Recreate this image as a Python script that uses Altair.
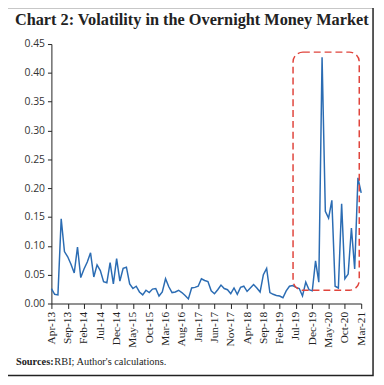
import altair as alt
import pandas as pd

tick_labels = ["Apr-13", "Sep-13", "Feb-14", "Jul-14", "Dec-14", "May-15", "Oct-15",
               "Mar-16", "Aug-16", "Jan-17", "Jun-17", "Nov-17", "Apr-18", "Sep-18",
               "Feb-19", "Jul-19", "Dec-19", "May-20", "Oct-20", "Mar-21"]

volatility = [0.026, 0.016, 0.015, 0.147, 0.090, 0.081, 0.068, 0.053, 0.098, 0.045,
              0.060, 0.072, 0.088, 0.046, 0.067, 0.057, 0.038, 0.036, 0.071, 0.034,
              0.078, 0.039, 0.061, 0.063, 0.034, 0.026, 0.030, 0.020, 0.015, 0.023,
              0.019, 0.025, 0.026, 0.013, 0.020, 0.043, 0.029, 0.019, 0.020, 0.023,
              0.019, 0.014, 0.008, 0.027, 0.028, 0.030, 0.043, 0.040, 0.038, 0.022,
              0.017, 0.024, 0.032, 0.026, 0.024, 0.017, 0.027, 0.016, 0.028, 0.030,
              0.021, 0.027, 0.033, 0.027, 0.020, 0.050, 0.061, 0.019, 0.016, 0.014,
              0.013, 0.010, 0.022, 0.030, 0.031, 0.028, 0.026, 0.013, 0.037, 0.024,
              0.022, 0.074, 0.037, 0.427, 0.160, 0.148, 0.179, 0.030, 0.027, 0.173,
              0.043, 0.051, 0.131, 0.060, 0.218, 0.192]

y_ticks = [0.0, 0.05, 0.10, 0.15, 0.20, 0.25, 0.30, 0.35, 0.40, 0.45]

# highlighted period (month index range, value range)
box_months = [74.1, 94.4]
box_values = [0.023, 0.436]

title_text = "Chart 2: Volatility in the Overnight Money Market"
source_bold = "Sources:"
source_rest = "RBI; Author's calculations."

df = pd.DataFrame({"month": list(range(len(volatility))), "value": volatility})
box_df = pd.DataFrame({"x": [box_months[0]], "x2": [box_months[1]],
                       "y": [box_values[0]], "y2": [box_values[1]]})
one = pd.DataFrame({"a": [0]})

W, H = 314, 263
label_js = "[" + ",".join("'" + s + "'" for s in tick_labels) + "]"

x_scale = alt.Scale(domain=[0, 95], nice=False, zero=False)
y_scale = alt.Scale(domain=[0, 0.45], nice=False)

x_axis = alt.Axis(values=list(range(0, 96, 5)),
                  labelExpr=label_js + "[round(datum.value/5)]",
                  labelAngle=-90, title=None, grid=False,
                  labelOverlap=False, labelFlush=False,
                  labelFont="Liberation Serif", labelFontSize=11.5,
                  labelColor="#222", domainColor="#222", tickColor="#222",
                  tickSize=5, labelPadding=3)
y_axis = alt.Axis(values=y_ticks, format=".2f", title=None, grid=False,
                  labelOverlap=False, labelFlush=False,
                  labelFont="Open Sans", labelFontSize=10.5, labelColor="#333",
                  domainColor="#222", tickColor="#222", tickSize=4, labelPadding=3)

line = alt.Chart(df).mark_line(color="#2b6cb3", strokeWidth=1.5).encode(
    x=alt.X("month:Q", scale=x_scale, axis=x_axis),
    y=alt.Y("value:Q", scale=y_scale, axis=y_axis),
)

box = alt.Chart(box_df).mark_rect(
    fillOpacity=0, stroke="#e0443c", strokeWidth=1.5, strokeDash=[7, 4], cornerRadius=10
).encode(x=alt.X("x:Q", scale=x_scale, axis=x_axis), x2="x2",
         y=alt.Y("y:Q", scale=y_scale, axis=y_axis), y2="y2")

frame = alt.Chart(one).mark_rect(
    fillOpacity=0, stroke="#222", strokeWidth=1.5
).encode(x=alt.value(-47), x2=alt.value(326), y=alt.value(-37), y2=alt.value(336))

title = alt.Chart(one).mark_text(
    align="left", baseline="alphabetic", font="Liberation Serif", fontWeight="bold",
    fontSize=16.5, color="#222"
).encode(x=alt.value(-37), y=alt.value(-19), text=alt.value(title_text))

src1 = alt.Chart(one).mark_text(
    align="left", baseline="alphabetic", font="Liberation Serif", fontWeight="bold",
    fontSize=10.5, color="#222"
).encode(x=alt.value(-36), y=alt.value(325), text=alt.value(source_bold))

src2 = alt.Chart(one).mark_text(
    align="left", baseline="alphabetic", font="Liberation Serif",
    fontSize=10.5, color="#222"
).encode(x=alt.value(3), y=alt.value(325), text=alt.value(source_rest))

chart = alt.layer(frame, line, box, title, src1, src2).properties(
    width=W, height=H,
    padding={"left": 44, "top": 34, "right": 15, "bottom": 76},
    autosize=alt.AutoSizeParams(type="none"),
    background="white",
).configure_view(strokeWidth=0)

chart.save("out.html", embed_options={"renderer": "svg", "actions": False})
